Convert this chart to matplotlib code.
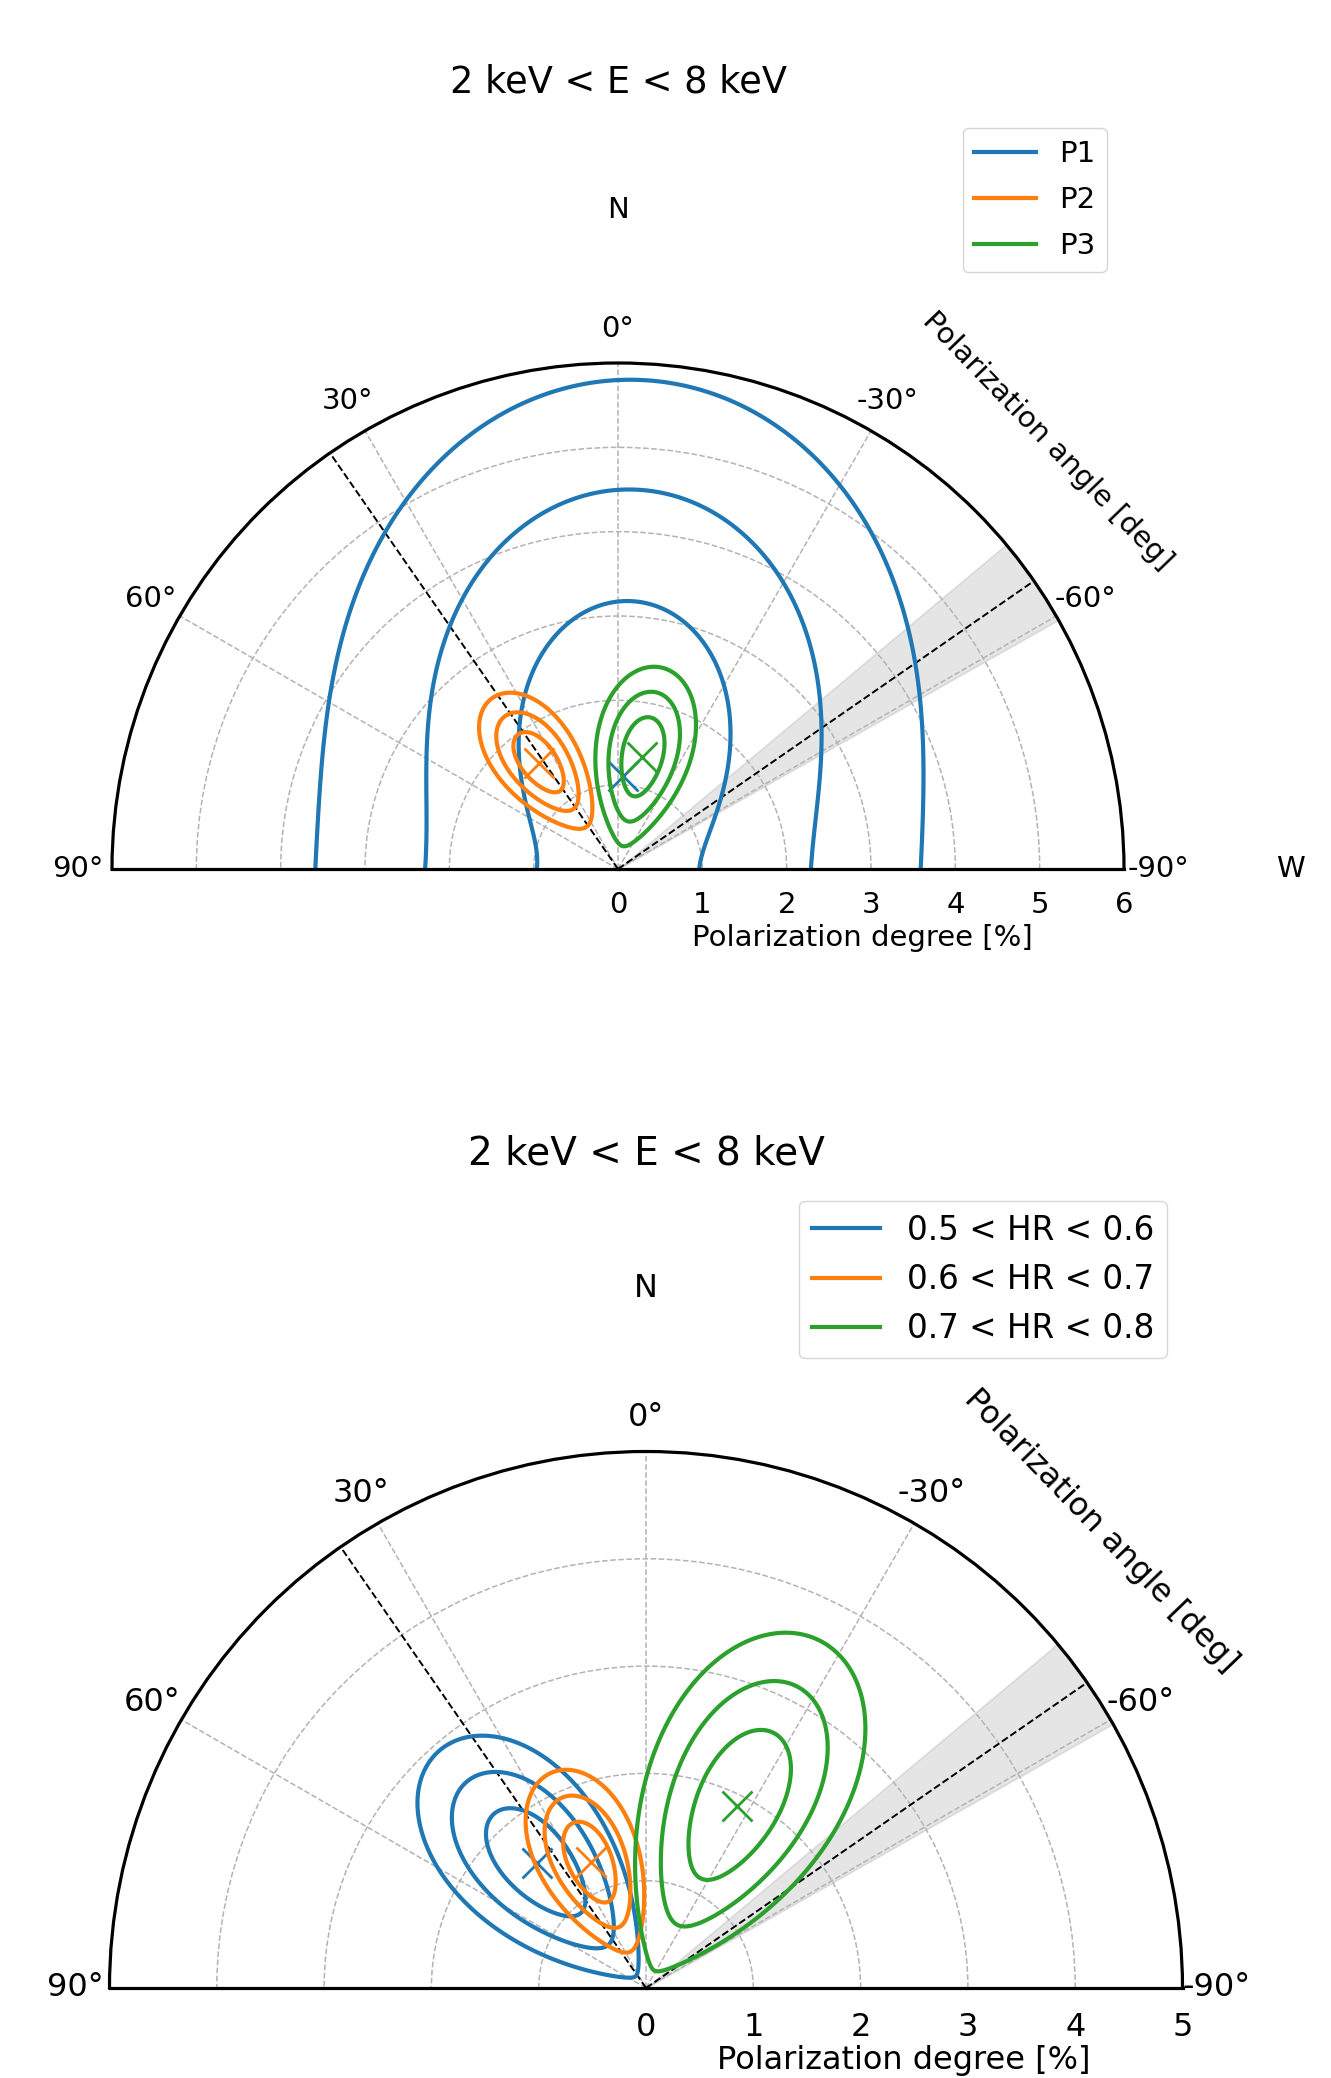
import numpy as np
import matplotlib
matplotlib.use("Agg")
import matplotlib.pyplot as plt
from matplotlib.lines import Line2D

# best-fit polarization per data slice: degree [%], angle [deg], 1-sigma error on Q/U [%]
phase_labels = ["P1", "P2", "P3"]
phase_pd = [1.11, 1.57, 1.36]
phase_pa = [-2.9, 36.5, -12.1]
phase_sigma = [1.365, 0.275, 0.315]

hr_labels = ["0.5 < HR < 0.6", "0.6 < HR < 0.7", "0.7 < HR < 0.8"]
hr_pd = [1.54, 1.28, 1.90]
hr_pa = [41.1, 23.8, -26.5]
hr_sigma = [0.405, 0.265, 0.50]

# delta chi^2 for 1, 2, 3 sigma with two free parameters
dchi2_levels = [2.30, 6.18, 11.83]

# jet direction with its uncertainty, and the perpendicular direction
jet_pa = -55.3
jet_pa_err = 5.2
perp_pa = 34.7

colors = ["tab:blue", "tab:orange", "tab:green"]
angle_ticks = [-90, -60, -30, 0, 30, 60, 90]

W, H = 1331, 2078


def chi2_map(pd0, pa0, sigma, rmax):
    psi = np.radians(np.linspace(-90, 90, 901))
    p = np.linspace(0, rmax, 700)
    T, R = np.meshgrid(psi, p)
    q0 = pd0 * np.cos(2 * np.radians(pa0))
    u0 = pd0 * np.sin(2 * np.radians(pa0))
    q = R * np.cos(2 * T)
    u = R * np.sin(2 * T)
    return T, R, ((q - q0) ** 2 + (u - u0) ** 2) / sigma ** 2


def half_polar(fig, ox, oy, rad):
    # the half disk sits in the upper-middle of a square polar box
    rect = [(ox - rad) / W, (H - oy - rad / 2) / H, 2 * rad / W, 2 * rad / H]
    return fig.add_axes(rect, projection="polar")


def at(xr, yr):
    # position in units of the outer radius, measured from the origin
    return 0.5 + 0.5 * xr, 0.25 + 0.5 * yr


def pol_panel(ax, labels, pds, pas, sigmas, rmax, fs, title_fs, leg_fs,
              leg_corner, leg_spacing, angle_pos, degree_pos, rpad, show_w):
    ax.set_theta_zero_location("N")
    ax.set_thetamin(-90)
    ax.set_thetamax(90)
    ax.set_rlim(0, rmax)
    ax.set_rticks(range(rmax + 1))
    ax.set_thetagrids(angle_ticks, labels=[f"{a}\u00b0" for a in angle_ticks])
    ax.grid(True, ls="--", color="0.7", lw=1.1)
    ax.tick_params(labelsize=fs)
    ax.tick_params(axis="x", pad=14)
    ax.tick_params(axis="y", pad=rpad)
    for sp in ax.spines.values():
        sp.set_linewidth(2.3)
        sp.set_color("black")

    # jet direction band and reference lines
    th = np.radians(np.linspace(jet_pa - jet_pa_err, jet_pa + jet_pa_err, 60))
    ax.fill_between(th, 0, rmax, color="0.55", alpha=0.22, lw=1.2)
    ax.plot([np.radians(jet_pa)] * 2, [0, rmax], "k--", lw=1.4)
    ax.plot([np.radians(perp_pa)] * 2, [0, rmax], "k--", lw=1.4)

    handles = []
    for lab, pd0, pa0, sig, c in zip(labels, pds, pas, sigmas, colors):
        T, R, Z = chi2_map(pd0, pa0, sig, rmax)
        ax.contour(T, R, Z, levels=dchi2_levels, colors=c, linewidths=3.0)
        ax.plot(np.radians(pa0), pd0, "x", color=c, ms=21, mew=2.0)
        handles.append(Line2D([], [], color=c, lw=3.0, label=lab))

    ax.legend(handles=handles, loc="upper right", bbox_to_anchor=at(*leg_corner),
              borderaxespad=0, fontsize=leg_fs, handlelength=2.1,
              labelspacing=leg_spacing)

    ax.text(*at(0, 1.555), "2 keV < E < 8 keV", transform=ax.transAxes,
            ha="center", va="center", fontsize=title_fs)
    ax.text(*at(0, 1.303), "N", transform=ax.transAxes, ha="center",
            va="center", fontsize=fs)
    if show_w:
        ax.text(*at(1.328, 0.0), "W", transform=ax.transAxes, ha="center",
                va="center", fontsize=fs)
    ax.text(*at(*angle_pos), "Polarization angle [deg]", transform=ax.transAxes,
            ha="center", va="center", rotation=-46, fontsize=fs)
    ax.text(*at(*degree_pos), "Polarization degree [%]", transform=ax.transAxes,
            ha="center", va="center", fontsize=fs)


fig = plt.figure(figsize=(W / 100, H / 100), dpi=100)

ax1 = half_polar(fig, 618, 869, 506)
pol_panel(ax1, phase_labels, phase_pd, phase_pa, phase_sigma, 6,
          fs=21, title_fs=26.5, leg_fs=21, leg_corner=(0.966, 1.464),
          leg_spacing=0.62, angle_pos=(0.848, 0.846), degree_pos=(0.482, -0.136),
          rpad=12, show_w=True)

ax2 = half_polar(fig, 646, 1988, 536.5)
pol_panel(ax2, hr_labels, hr_pd, hr_pa, hr_sigma, 5,
          fs=23, title_fs=28, leg_fs=23.5, leg_corner=(0.971, 1.4675),
          leg_spacing=0.5, angle_pos=(0.849, 0.852), degree_pos=(0.481, -0.136),
          rpad=14, show_w=False)

fig.savefig("out.png", dpi=100)
